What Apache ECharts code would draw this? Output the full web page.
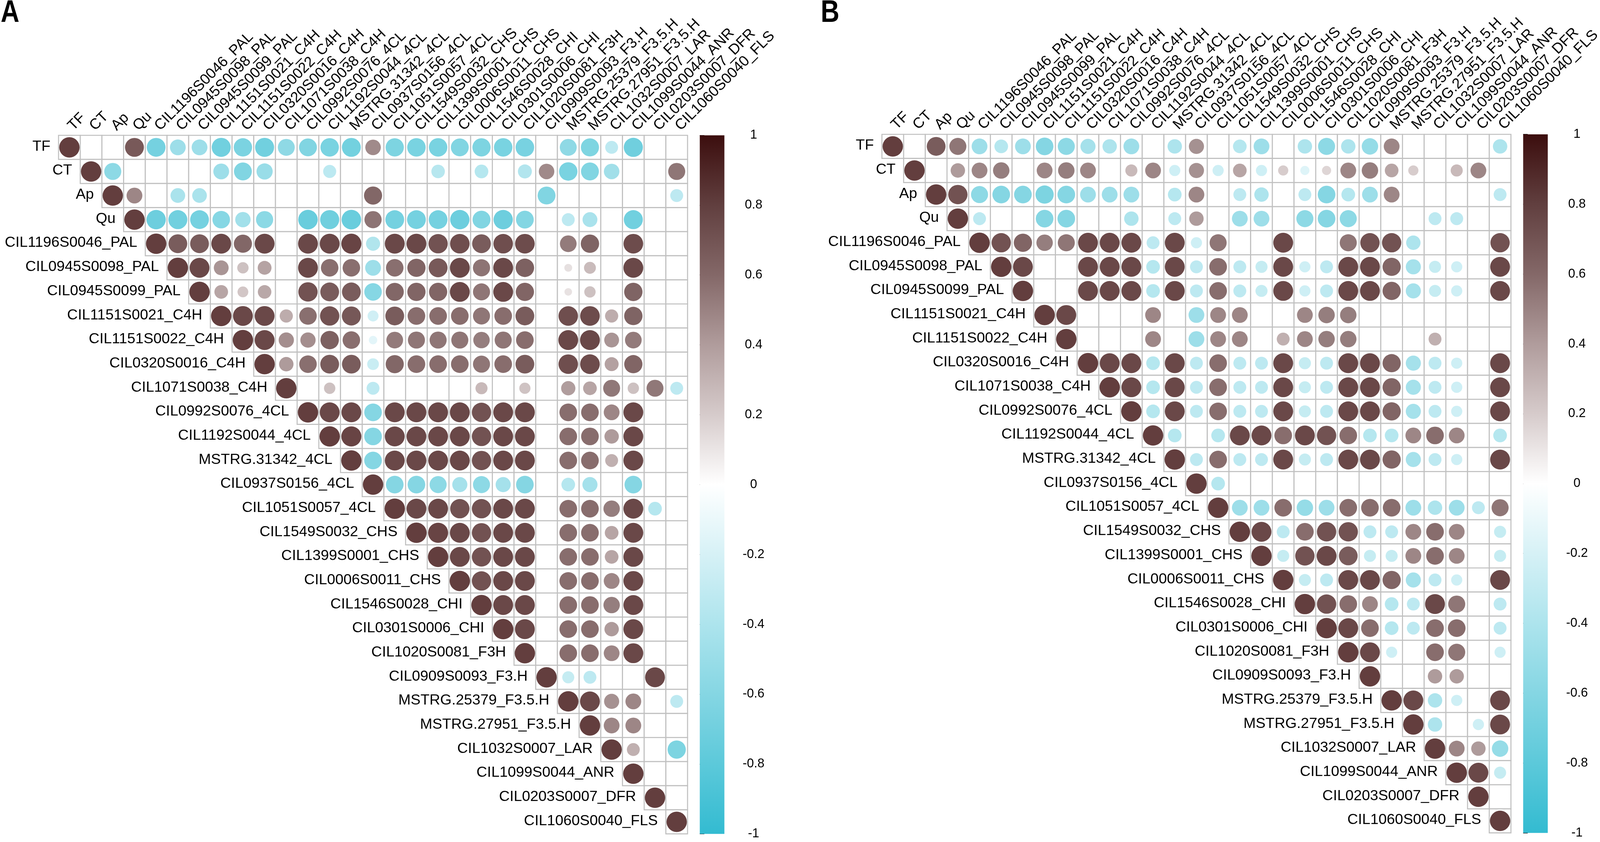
<!DOCTYPE html>
<html>
<head>
<meta charset="utf-8">
<script src="https://cdn.jsdelivr.net/npm/echarts@6/dist/echarts.min.js"></script>
<style>
html,body{margin:0;padding:0;background:#ffffff;overflow:hidden;}
#chart{width:100vw;height:100vh;}
</style>
</head>
<body>
<div id="chart"></div>
<script>
const o = null; // blank (non-significant) cell

const names = ['TF','CT','Ap','Qu','CIL1196S0046_PAL','CIL0945S0098_PAL','CIL0945S0099_PAL',
  'CIL1151S0021_C4H','CIL1151S0022_C4H','CIL0320S0016_C4H','CIL1071S0038_C4H','CIL0992S0076_4CL',
  'CIL1192S0044_4CL','MSTRG.31342_4CL','CIL0937S0156_4CL','CIL1051S0057_4CL','CIL1549S0032_CHS',
  'CIL1399S0001_CHS','CIL0006S0011_CHS','CIL1546S0028_CHI','CIL0301S0006_CHI','CIL1020S0081_F3H',
  'CIL0909S0093_F3.H','MSTRG.25379_F3.5.H','MSTRG.27951_F3.5.H','CIL1032S0007_LAR','CIL1099S0044_ANR',
  'CIL0203S0007_DFR','CIL1060S0040_FLS'];

// Upper-triangle rows: row i lists columns i..28 (starting at the diagonal)
const corrA = [
  [1, o, o, .86, -.85, -.6, -.6, -.87, -.81, -.87, -.69, -.77, -.82, -.86, .58, -.8, -.82, -.82, -.77, -.8, -.82, -.83, o, -.69, -.79, -.4, -.88, o, o],
  [1, -.7, o, o, o, o, -.6, -.77, -.63, o, o, -.41, o, o, o, o, -.44, o, -.45, o, -.47, .58, -.82, -.77, -.58, o, o, .7],
  [1, .6, o, -.52, -.52, o, o, o, o, o, o, o, .79, o, o, o, o, o, o, o, -.77, o, o, o, o, o, -.4],
  [1, -.9, -.87, -.85, -.74, -.57, -.71, o, -.92, -.88, -.92, .71, -.85, -.85, -.85, -.9, -.77, -.9, -.76, o, -.4, -.53, o, -.87, o, o],
  [1, .85, .85, .95, .79, .95, o, .95, .95, .97, -.48, .95, .95, .9, .92, .85, .92, .93, o, .67, .81, o, .93, o, o],
  [1, .95, .53, .31, .46, o, .95, .74, .74, -.6, .74, .8, .86, .95, .71, .95, .82, o, .15, .34, o, .95, o, o],
  [1, .45, .28, .44, o, .9, .85, .85, -.74, .79, .8, .8, .95, .7, .95, .8, o, .14, .31, o, .81, o, o],
  [1, .95, .95, .42, .74, .9, .87, -.29, .85, .75, .75, .75, .7, .75, .85, o, .92, .93, .42, .81, o, o],
  [1, .95, .56, .56, .82, .74, -.17, .67, .7, .7, .7, .65, .7, .75, o, .95, .95, .53, .67, o, o],
  [1, .5, .74, .85, .85, -.33, .79, .75, .75, .75, .7, .75, .85, o, .92, .93, .47, .8, o, o],
  [1, o, .31, o, -.4, o, o, o, o, .35, o, .3, o, .49, .45, .69, .31, .69, -.4],
  [1, .95, .95, -.75, .95, .95, .95, .95, .9, .95, .95, o, .75, .75, .6, .95, o, o],
  [1, .97, -.75, .95, .95, .95, .95, .9, .95, .95, o, .75, .75, .5, .95, o, o],
  [1, -.75, .95, .95, .95, .95, .9, .95, .95, o, .75, .75, .4, .95, o, o],
  [1, -.75, -.75, -.7, -.55, -.7, -.55, -.75, o, -.45, -.55, o, -.75, o, o],
  [1, .95, .95, .9, .9, .95, .95, o, .75, .75, .65, .95, -.45, o],
  [1, .97, .95, .9, .95, .95, o, .75, .75, .45, .95, o, o],
  [1, .95, .9, .95, .95, o, .75, .75, .45, .95, o, o],
  [1, .9, .95, .95, o, .75, .75, .6, .95, o, o],
  [1, .95, .95, o, .75, .75, .65, .95, o, o],
  [1, .95, o, .75, .75, .5, .95, o, o],
  [1, o, .75, .75, .6, .95, o, o],
  [1, -.35, -.4, o, o, .95, o],
  [1, .95, .55, .6, o, -.4],
  [1, .6, .6, o, o],
  [1, .4, o, -.8],
  [1, o, o],
  [1, o],
  [1]
];

const corrB = [
  [1, o, .85, .7, -.6, -.45, -.6, -.75, -.7, -.55, -.5, -.6, o, -.5, .55, o, -.45, -.6, o, -.5, -.7, -.5, -.65, .6, o, o, o, o, -.5],
  [1, o, .5, .6, .65, o, .6, .65, .6, o, .35, .6, -.3, .55, -.3, .45, -.3, .25, -.2, .2, .6, .65, .45, .25, o, .35, .6, o],
  [1, .9, -.7, -.75, -.75, -.8, -.75, -.6, -.6, -.6, o, -.45, .6, o, -.4, -.5, o, -.4, -.75, -.45, -.6, .6, o, o, o, o, -.4],
  [1, -.4, o, o, -.75, -.75, o, o, -.5, o, -.4, .5, o, -.6, -.6, o, -.7, -.75, -.7, o, o, o, -.4, -.4, o, o],
  [1, .9, .8, .65, .7, .95, .95, .95, -.4, .95, -.3, .7, o, o, .95, o, o, .7, .9, .9, -.5, o, o, o, .9],
  [1, .95, o, o, .95, .95, .95, -.45, .95, -.4, .75, -.4, -.35, .95, -.3, -.4, .95, .95, .8, -.55, -.35, -.3, o, .95],
  [1, o, o, .95, .95, .95, -.45, .95, -.4, .75, -.4, -.35, .95, -.3, -.4, .95, .95, .8, -.55, -.35, -.3, o, .95],
  [1, .95, o, o, o, .6, o, -.6, .6, .6, o, o, .6, .65, .65, o, o, o, o, o, o, o],
  [1, o, o, o, .6, o, -.6, .6, .6, o, .4, .6, .65, .65, o, o, o, .4, o, o, o],
  [1, .95, .95, -.45, .95, -.4, .75, -.4, -.4, .95, -.35, -.4, .95, .95, .8, -.55, -.4, -.3, o, .95],
  [1, .95, -.45, .95, -.4, .75, -.4, -.4, .95, -.35, -.4, .95, .95, .8, -.55, -.4, -.3, o, .95],
  [1, -.45, .95, -.4, .75, -.4, -.4, .95, -.35, -.4, .95, .95, .8, -.55, -.4, -.3, o, .95],
  [1, -.45, o, -.45, .95, .95, .75, .95, .9, .75, -.45, -.45, .6, .75, .6, o, -.45],
  [1, -.4, .75, -.4, -.4, .95, -.35, -.4, .95, .95, .8, -.55, -.4, -.3, o, .95],
  [1, -.45, o, o, o, o, o, o, o, o, o, o, o, o, o],
  [1, -.6, -.6, .75, -.65, -.6, .75, .75, .75, -.6, -.5, -.6, -.4, .7],
  [1, .95, -.4, .75, .9, .9, -.4, -.4, .6, .75, .6, o, -.35],
  [1, -.35, .9, .95, .85, -.35, -.35, .6, .75, .6, o, -.35],
  [1, -.35, -.4, .95, .95, .8, -.55, -.4, -.3, o, .95],
  [1, .9, .75, .6, -.45, -.4, .95, .7, o, -.4],
  [1, .95, .75, -.45, -.4, .75, .75, o, -.4],
  [1, .95, -.3, o, .75, .7, o, -.3],
  [1, o, o, .5, .5, o, o],
  [1, .95, -.5, -.3, o, .95],
  [1, -.5, o, -.3, .95],
  [1, .6, .5, -.65],
  [1, .95, -.35],
  [1, o],
  [1]
];

const legendMin = -1, legendMax = 1, legendStep = 0.2;
// colour ramp sampled every 0.2 from -1 to 1
const paletteStops = ['#33BBD1', '#5CC9DA', '#85D6E3', '#ADE4ED', '#D6F1F6', '#FFFFFF',
  '#D6CBCB', '#B09C9C', '#846868', '#613F3F', '#3C0E0E'];

// Design is laid out on a 4550x2156 canvas and mapped onto the real viewport
const BASE_W = 4550, BASE_H = 2156;
const el = document.getElementById('chart');
const VW = el.clientWidth || window.innerWidth || BASE_W;
const VH = el.clientHeight || window.innerHeight || BASE_H;
const SX = VW / BASE_W, SY = VH / BASE_H, SF = Math.min(SX, SY);
function X(v) { return v * SX; }
function Y(v) { return v * SY; }
function F(v) { return v * SF; }

const FONT_FAMILY = 'Liberation Sans, Arial, sans-serif';
const N = names.length;
const CELL = 61.68;
const SIZE = CELL * N;
const panels = [
  {rows: corrA, left: 166.5, top: 346.5, cbLeft: 1990, title: 'A', titleLeft: 2},
  {rows: corrB, left: 2508, top: 344, cbLeft: 4331.5, title: 'B', titleLeft: 2334}
];

const grid = [], xAxis = [], yAxis = [], series = [], circleIdx = [], graphics = [];

panels.forEach(function (p) {
  const g = grid.length;
  grid.push({left: X(p.left), top: Y(p.top), width: X(SIZE), height: Y(SIZE)});
  xAxis.push({type: 'category', gridIndex: g, data: names, position: 'top', boundaryGap: true, show: false});
  yAxis.push({type: 'category', gridIndex: g, data: names, inverse: true, boundaryGap: true, show: false});

  const cells = [], circles = [];
  p.rows.forEach(function (row, i) {
    for (let k = 0; k < N - i; k++) {
      const j = i + k;
      cells.push([j, i]);
      const v = row[k];
      if (v !== null && v !== undefined) circles.push([j, i, v]);
    }
  });

  // cell borders (upper triangle only)
  series.push({type: 'custom', xAxisIndex: g, yAxisIndex: g, silent: true, z: 1, clip: false,
    encode: {x: 0, y: 1}, data: cells,
    renderItem: function (params, api) {
      const c = api.coord([api.value(0), api.value(1)]);
      const s = api.size([1, 1]);
      return {type: 'rect', shape: {x: c[0] - s[0] / 2, y: c[1] - s[1] / 2, width: s[0], height: s[1]},
        style: {fill: '#ffffff', stroke: '#C0C0C0', lineWidth: F(3)}};
    }});

  // correlation circles (area proportional to |r|)
  circleIdx.push(series.length);
  series.push({type: 'scatter', xAxisIndex: g, yAxisIndex: g, silent: true, z: 3, data: circles,
    symbol: 'circle',
    symbolSize: function (val) { return F(58) * Math.sqrt(Math.abs(val[2])); }});

  // row labels beside the diagonal
  series.push({type: 'custom', xAxisIndex: g, yAxisIndex: g, silent: true, z: 4, clip: false,
    encode: {x: 0, y: 1}, data: names.map(function (n, i) { return [i, i]; }),
    renderItem: function (params, api) {
      const i = api.value(0);
      const c = api.coord([i, i]);
      const s = api.size([1, 1]);
      return {type: 'text', x: c[0] - s[0] / 2 - X(23), y: c[1] - Y(2),
        style: {text: names[i], fill: '#000', font: F(42) + 'px ' + FONT_FAMILY,
          textAlign: 'right', textVerticalAlign: 'middle', align: 'right', verticalAlign: 'middle'}};
    }});

  // column labels, rotated 45 degrees above the first row
  series.push({type: 'custom', xAxisIndex: g, yAxisIndex: g, silent: true, z: 4, clip: false,
    encode: {x: 0, y: 1}, data: names.map(function (n, j) { return [j, 0]; }),
    renderItem: function (params, api) {
      const j = api.value(0);
      const c = api.coord([j, 0]);
      const s = api.size([1, 1]);
      return {type: 'text', x: c[0] + X(3), y: c[1] - s[1] / 2 - Y(18), rotation: Math.PI / 4,
        style: {text: names[j], fill: '#000', font: F(42) + 'px ' + FONT_FAMILY,
          textAlign: 'left', textVerticalAlign: 'middle', align: 'left', verticalAlign: 'middle'}};
    }});

  // colour legend
  const cg = grid.length;
  grid.push({left: X(p.cbLeft), top: Y(p.top), width: X(70), height: Y(SIZE)});
  xAxis.push({type: 'value', gridIndex: cg, min: 0, max: 1, show: false});
  yAxis.push({type: 'value', gridIndex: cg, min: legendMin, max: legendMax, interval: legendStep, position: 'right',
    axisLine: {show: false}, splitLine: {show: false},
    axisTick: {show: true, length: X(13), lineStyle: {color: '#000', width: F(2)}},
    axisLabel: {fontSize: F(36), color: '#000', margin: X(83), align: 'center', fontFamily: FONT_FAMILY}});
  series.push({type: 'custom', xAxisIndex: cg, yAxisIndex: cg, silent: true, data: [[0, 0]],
    renderItem: function (params, api) {
      const a = api.coord([0, legendMax]);
      const b = api.coord([1, legendMin]);
      const stops = paletteStops.slice().reverse().map(function (c, idx, arr) {
        return {offset: idx / (arr.length - 1), color: c};
      });
      return {type: 'rect', shape: {x: a[0], y: a[1], width: b[0] - a[0], height: b[1] - a[1]},
        style: {fill: new echarts.graphic.LinearGradient(0, 0, 0, 1, stops)}};
    }});

  // panel letter
  graphics.push({type: 'text', x: X(p.titleLeft), y: Y(-6), scaleX: SX / SY * 0.92, scaleY: 1, silent: true,
    style: {text: p.title, fill: '#000', font: 'bold ' + Y(80) + 'px ' + FONT_FAMILY,
      textAlign: 'left', textVerticalAlign: 'top', align: 'left', verticalAlign: 'top'}});
});

const chart = echarts.init(el, null, {renderer: 'canvas'});
chart.setOption({
  animation: false,
  backgroundColor: '#ffffff',
  graphic: graphics,
  grid: grid,
  xAxis: xAxis,
  yAxis: yAxis,
  visualMap: {type: 'continuous', show: false, min: legendMin, max: legendMax, dimension: 2,
    seriesIndex: circleIdx, inRange: {color: paletteStops}},
  series: series
});
</script>
</body>
</html>
